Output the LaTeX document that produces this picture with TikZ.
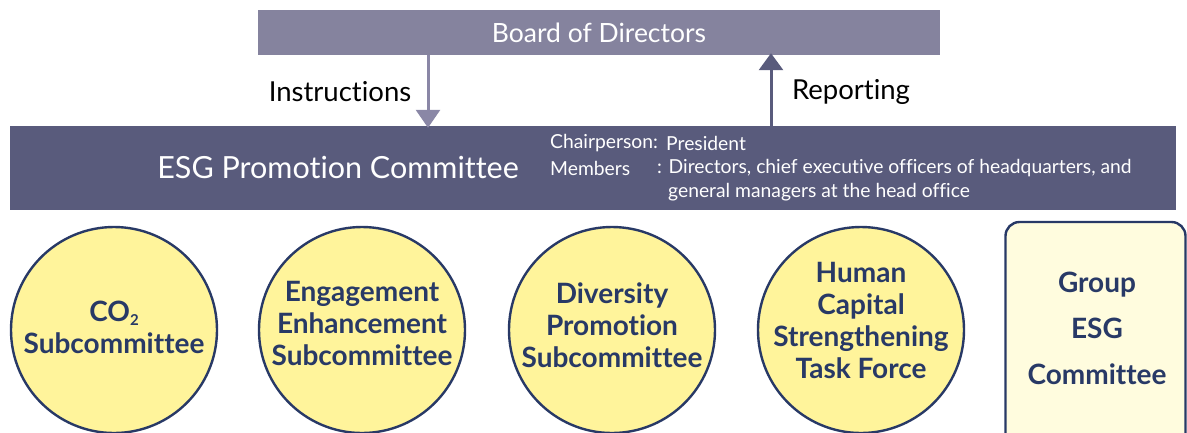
\documentclass[tikz,border=0pt]{standalone}
\usepackage{fontspec}
\setmainfont{Lato}[Ligatures=NoCommon, RawFeature={-liga;-dlig}]
\usetikzlibrary{arrows.meta}
\definecolor{boardc}{RGB}{133,131,158}
\definecolor{instrc}{RGB}{138,135,166}
\definecolor{esgc}{RGB}{89,91,124}
\definecolor{subfill}{RGB}{255,244,155}
\definecolor{grpfill}{RGB}{255,252,222}
\definecolor{navy}{RGB}{40,57,102}
\tikzset{
  boardbox/.style={fill=boardc, text=white, minimum width=682pt, minimum height=45pt, inner sep=0pt, font=\fontsize{26.5}{30}\selectfont},
  esgbox/.style={fill=esgc, minimum width=1166pt, minimum height=84pt, inner sep=0pt},
  esgtitle/.style={text=white, inner sep=0pt, font=\fontsize{30.5}{34}\selectfont},
  esgdet/.style={text=white, inner sep=0pt, anchor=west, font=\fontsize{19.3}{22}\selectfont},
  lbl/.style={text=black, inner sep=0pt, font=\fontsize{27.5}{30}\selectfont},
  subc/.style={circle, draw=navy, line width=2.4pt, fill=subfill, minimum size=206pt, inner sep=0pt},
  subtxt/.style={text=navy, align=center, inner sep=0pt, font=\fontsize{28}{32}\selectfont\bfseries},
  grpbox/.style={draw=navy, line width=2.4pt, fill=grpfill, rounded corners=14pt, minimum width=180pt, minimum height=240pt, inner sep=0pt},
  instrarrow/.style={draw=instrc, line width=3pt, -{Triangle[width=24pt,length=18pt]}},
  reparrow/.style={draw=esgc, line width=3pt, -{Triangle[width=24pt,length=17pt]}},
}
\begin{document}
\begin{tikzpicture}[x=1pt,y=-1pt]
\useasboundingbox (0,0) rectangle (1187,432);
\node[boardbox] (board) at (599,32.5) {Board of Directors};
\node[esgbox] (esg) at (593,168) {};
\node[esgtitle] (esgt) at (338,167) {ESG Promotion Committee};
\node[esgdet] (chair) at (550,143) {Chairperson:};
\node[esgdet] (chairv) at (666,143) {President};
\node[esgdet] (mem) at (550,168) {Members};
\node[esgdet] (memb) at (657,168) {: Directors, chief executive officers of headquarters, and};
\node[esgdet] (mem2) at (668,192) {general managers at the head office};
\coordinate (ix) at (428,0);
\coordinate (rx) at (771,0);
\draw[instrarrow] (ix |- board.south) -- ([yshift=-2pt]ix |- esg.north);
\draw[reparrow] (rx |- esg.north) -- ([yshift=2pt]rx |- board.south);
\node[lbl] (instr) at (340,92) {Instructions};
\node[lbl] (rep) at (851,92) {Reporting};
\node[subc] (c1) at (114,330) {};
\node[subtxt] (t1) at (114,327.5) {CO\raisebox{-0.25ex}{\fontsize{15}{15}\selectfont 2}\\Subcommittee};
\node[subc] (c2) at (362,330) {};
\node[subtxt] (t2) at (362,323) {Engagement\\Enhancement\\Subcommittee};
\node[subc] (c3) at (612,330) {};
\node[subtxt] (t3) at (612,325) {Diversity\\Promotion\\Subcommittee};
\node[subc] (c4) at (861,330) {};
\node[subtxt] (t4) at (861,320) {Human\\Capital\\Strengthening\\Task Force};
\node[grpbox] (grp) at (1095.5,342) {};
\node[subtxt, font=\fontsize{28}{46}\selectfont\bfseries] (t5) at (1097,328.5) {Group\\ESG\\Committee};
\end{tikzpicture}
\end{document}
